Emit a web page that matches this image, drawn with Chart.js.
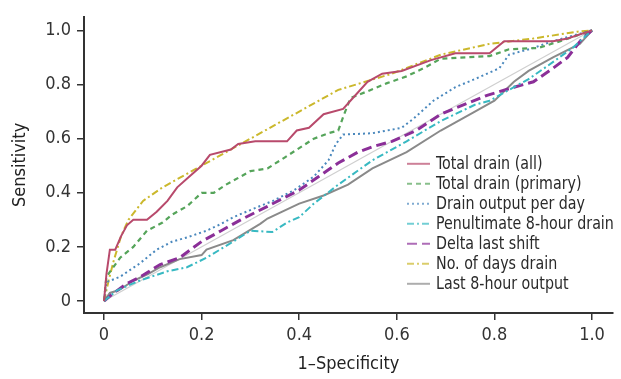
<!DOCTYPE html>
<html>
<head>
<meta charset="utf-8">
<script src="https://cdn.jsdelivr.net/npm/chart.js@4"></script>
<style>
  html, body { margin: 0; padding: 0; background: #fff; }
  #wrap { width: 621px; height: 379px; }
</style>
</head>
<body>
<div id="wrap"><canvas id="roc"></canvas></div>
<script>
// ROC curves, points as [1-specificity, sensitivity]
const seriesNames = [
  'Total drain (all)',
  'Total drain (primary)',
  'Drain output per day',
  'Penultimate 8-hour drain',
  'Delta last shift',
  'No. of days drain',
  'Last 8-hour output'
];

const totalDrainAll = [[0,0],[0.005,0.1],[0.012,0.19],[0.023,0.19],[0.035,0.24],[0.047,0.28],[0.06,0.3],[0.088,0.3],
  [0.108,0.33],[0.13,0.37],[0.15,0.42],[0.175,0.46],[0.2,0.5],[0.217,0.54],[0.26,0.56],[0.275,0.58],[0.31,0.59],
  [0.375,0.59],[0.395,0.63],[0.42,0.64],[0.45,0.69],[0.49,0.71],[0.51,0.75],[0.54,0.81],[0.57,0.84],[0.61,0.85],
  [0.67,0.89],[0.72,0.915],[0.79,0.915],[0.82,0.96],[0.92,0.96],[0.95,0.97],[1,1]];

const totalDrainPrimary = [[0,0],[0.005,0.09],[0.033,0.16],[0.06,0.2],[0.088,0.26],[0.12,0.29],[0.14,0.32],[0.17,0.35],
  [0.2,0.4],[0.225,0.4],[0.25,0.43],[0.265,0.445],[0.3,0.48],[0.335,0.49],[0.37,0.53],[0.4,0.565],[0.43,0.6],
  [0.46,0.62],[0.48,0.63],[0.49,0.68],[0.505,0.75],[0.54,0.775],[0.58,0.805],[0.62,0.83],[0.66,0.865],[0.69,0.895],
  [0.79,0.905],[0.83,0.93],[0.89,0.935],[0.935,0.96],[1,1]];

const drainPerDay = [[0,0],[0.005,0.07],[0.033,0.09],[0.074,0.14],[0.108,0.19],[0.14,0.22],[0.17,0.235],[0.21,0.26],
  [0.24,0.285],[0.265,0.31],[0.305,0.34],[0.346,0.37],[0.39,0.41],[0.43,0.46],[0.46,0.52],[0.475,0.58],[0.49,0.615],
  [0.55,0.62],[0.61,0.64],[0.635,0.675],[0.675,0.74],[0.72,0.79],[0.76,0.82],[0.81,0.86],[0.83,0.91],[0.88,0.935],
  [0.92,0.96],[1,1]];

const penultimateDrain = [[0,0],[0.027,0.04],[0.075,0.077],[0.13,0.11],[0.17,0.125],[0.21,0.16],[0.265,0.22],[0.3,0.26],
  [0.345,0.255],[0.375,0.29],[0.4,0.31],[0.43,0.36],[0.48,0.43],[0.55,0.52],[0.62,0.59],[0.69,0.665],[0.76,0.725],
  [0.79,0.74],[0.84,0.79],[0.87,0.82],[0.91,0.87],[0.96,0.935],[1,1]];

const deltaLastShift = [[0,0],[0.02,0.03],[0.047,0.065],[0.075,0.09],[0.115,0.135],[0.155,0.16],[0.2,0.22],[0.24,0.26],
  [0.28,0.3],[0.335,0.35],[0.4,0.41],[0.44,0.46],[0.48,0.51],[0.52,0.55],[0.55,0.57],[0.59,0.59],[0.64,0.63],
  [0.69,0.69],[0.73,0.72],[0.785,0.76],[0.84,0.79],[0.88,0.81],[0.92,0.86],[0.95,0.9],[0.98,0.97],[1,1]];

const daysDrain = [[0,0],[0.01,0.08],[0.02,0.15],[0.035,0.24],[0.05,0.3],[0.08,0.37],[0.12,0.42],[0.19,0.49],
  [0.24,0.54],[0.3,0.6],[0.38,0.68],[0.48,0.78],[0.59,0.84],[0.69,0.91],[0.79,0.95],[0.88,0.97],[0.97,0.995],[1,1]];

const last8HourOutput = [[0,0],[0.012,0.03],[0.03,0.04],[0.06,0.075],[0.09,0.1],[0.115,0.125],[0.155,0.155],[0.2,0.17],
  [0.21,0.19],[0.265,0.225],[0.32,0.285],[0.335,0.305],[0.4,0.36],[0.45,0.39],[0.5,0.43],[0.55,0.49],[0.62,0.55],
  [0.69,0.63],[0.76,0.7],[0.8,0.74],[0.84,0.81],[0.87,0.85],[0.92,0.9],[0.975,0.95],[1,1]];

const chanceLine = [[0,0],[1,1]];

const xTicks = [0, 0.2, 0.4, 0.6, 0.8, 1.0];
const yTicks = [0, 0.2, 0.4, 0.6, 0.8, 1.0];

const FONT = "'Liberation Sans Narrow', 'DejaVu Sans Condensed', 'Liberation Sans', sans-serif";

function toPts(arr) {
  return arr.map(p => ({ x: p[0], y: p[1] }));
}

function tickText(v) {
  return v === 0 ? '0' : v.toFixed(1);
}

// legend drawn inside the plot, lower right
// text squeezed a bit horizontally since no condensed face is installed
const innerLegend = {
  id: 'innerLegend',
  afterDraw: function(chart, args, opts) {
    const ctx = chart.ctx;
    const area = chart.chartArea;
    const x0 = area.right - opts.offsetRight;
    let y = area.top + opts.offsetTop;
    ctx.save();
    ctx.font = opts.fontSize + 'px ' + FONT;
    ctx.textBaseline = 'middle';
    ctx.textAlign = 'left';
    chart.data.datasets.forEach(function(ds) {
      if (ds.skipLegend) return;
      ctx.save();
      ctx.globalAlpha = 0.7;
      ctx.strokeStyle = ds.borderColor;
      ctx.lineWidth = 2;
      ctx.setLineDash(ds.borderDash || []);
      ctx.beginPath();
      ctx.moveTo(x0, y);
      ctx.lineTo(x0 + opts.lineLength, y);
      ctx.stroke();
      ctx.restore();
      ctx.save();
      ctx.translate(x0 + opts.lineLength + 6, y + 1);
      ctx.scale(opts.squeeze, 1);
      ctx.fillStyle = '#2a2a2a';
      ctx.fillText(ds.label, 0, 0);
      ctx.restore();
      y += opts.rowHeight;
    });
    ctx.restore();
  }
};

const datasets = [
  { label: seriesNames[0], data: toPts(totalDrainAll), borderColor: '#b84a6c', borderWidth: 2 },
  { label: seriesNames[1], data: toPts(totalDrainPrimary), borderColor: '#55a45a', borderWidth: 2.2, borderDash: [5, 4] },
  { label: seriesNames[2], data: toPts(drainPerDay), borderColor: '#4a88bd', borderWidth: 2, borderDash: [2, 3] },
  { label: seriesNames[3], data: toPts(penultimateDrain), borderColor: '#38b9c2', borderWidth: 2, borderDash: [7, 3, 2, 3] },
  { label: seriesNames[4], data: toPts(deltaLastShift), borderColor: '#8b2f98', borderWidth: 3, borderDash: [10, 5] },
  { label: seriesNames[5], data: toPts(daysDrain), borderColor: '#cbb82c', borderWidth: 2, borderDash: [7, 3, 2, 3] },
  { label: seriesNames[6], data: toPts(last8HourOutput), borderColor: '#8a8a8a', borderWidth: 2 },
  { label: 'Reference', data: toPts(chanceLine), borderColor: '#cfcfcf', borderWidth: 1.2, skipLegend: true }
].map(function(ds) {
  return Object.assign({ showLine: true, pointRadius: 0, tension: 0, fill: false }, ds);
});

new Chart(document.getElementById('roc'), {
  type: 'scatter',
  data: { datasets: datasets },
  plugins: [innerLegend],
  options: {
    responsive: true,
    maintainAspectRatio: false,
    animation: false,
    layout: { padding: { top: 15, right: 8, left: 6, bottom: 0 } },
    plugins: {
      legend: { display: false },
      tooltip: { enabled: false },
      innerLegend: { offsetRight: 206, offsetTop: 147, lineLength: 23, rowHeight: 20, fontSize: 18, squeeze: 0.88 }
    },
    scales: {
      x: {
        type: 'linear',
        min: -0.041,
        max: 1.043,
        afterBuildTicks: function(axis) { axis.ticks = xTicks.map(v => ({ value: v })); },
        afterFit: function(axis) { axis.height = 66; },
        ticks: { color: '#333', font: { family: FONT, size: 18 }, padding: 5, callback: tickText, maxRotation: 0 },
        grid: { display: true, drawOnChartArea: false, drawTicks: true, tickLength: 7, color: '#333', lineWidth: 1.5 },
        border: { display: true, color: '#333', width: 2 },
        title: { display: true, text: '1–Specificity', color: '#222', font: { family: FONT, size: 18 }, padding: { top: 6 } }
      },
      y: {
        type: 'linear',
        min: -0.044,
        max: 1.05,
        afterBuildTicks: function(axis) { axis.ticks = yTicks.map(v => ({ value: v })); },
        afterFit: function(axis) { axis.width = 78; },
        ticks: { color: '#333', font: { family: FONT, size: 18 }, padding: 6, callback: tickText },
        grid: { display: true, drawOnChartArea: false, drawTicks: true, tickLength: 7, color: '#333', lineWidth: 1.5 },
        border: { display: true, color: '#333', width: 2 },
        title: { display: true, text: 'Sensitivity', color: '#222', font: { family: FONT, size: 18 }, padding: { bottom: 6 } }
      }
    }
  }
});
</script>
</body>
</html>
